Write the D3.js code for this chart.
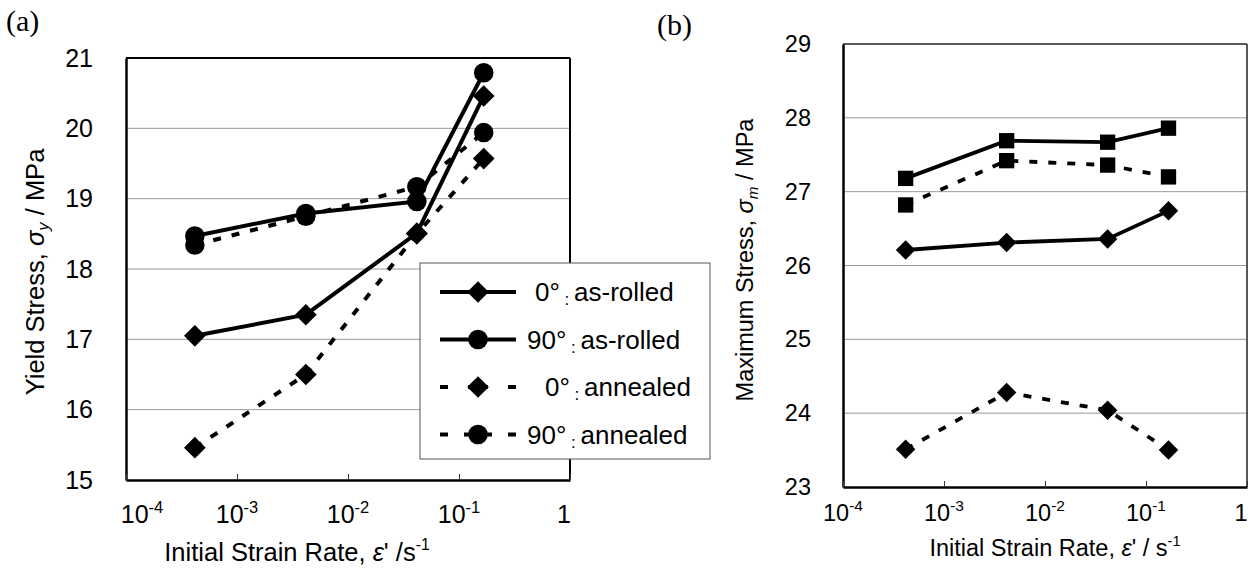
<!DOCTYPE html>
<html><head><meta charset="utf-8">
<script src="https://cdn.jsdelivr.net/npm/d3@7"></script>
<style>body{margin:0;background:#fff} text{font-family:"Liberation Sans",Arial,sans-serif;fill:#000}</style>
</head><body><svg id="c" width="1258" height="579" xmlns="http://www.w3.org/2000/svg"></svg>
<script>
// ---------- data ----------
const strainRates = [4.17e-4, 4.17e-3, 4.17e-2, 1.67e-1];
const xTickValues = [1e-4, 1e-3, 1e-2, 1e-1, 1];
const xTickExponents = ["-4", "-3", "-2", "-1", ""];

// (a) yield stress
const yieldTicks = [15, 16, 17, 18, 19, 20, 21];
const yield0Rolled = [17.05, 17.35, 18.51, 20.46];
const yield90Rolled = [18.47, 18.79, 18.96, 20.79];
const yield0Annealed = [15.46, 16.50, 18.50, 19.57];
const yield90Annealed = [18.34, 18.75, 19.17, 19.94];

// (b) maximum stress
const maxTicks = [23, 24, 25, 26, 27, 28, 29];
const max0Rolled = [26.21, 26.31, 26.36, 26.74];
const max90Rolled = [27.18, 27.69, 27.67, 27.86];
const max0Annealed = [23.51, 24.28, 24.04, 23.50];
const max90Annealed = [26.82, 27.42, 27.36, 27.20];

const legendAngles = ["0°", "90°", "0°", "90°"];
const legendStates = ["as-rolled", "as-rolled", "annealed", "annealed"];

// ---------- drawing ----------
const svg = d3.select("#c");

function panel(cfg) {
  const g = svg.append("g");
  const x = d3.scaleLog().domain([1e-4, 1]).range([cfg.l, cfg.r]);
  const y = d3.scaleLinear().domain([cfg.ticks[0], cfg.ticks[cfg.ticks.length - 1]]).range([cfg.b, cfg.t]);

  // gridlines
  g.append("g").selectAll("line").data(cfg.ticks.slice(1, -1)).join("line")
    .attr("x1", cfg.l).attr("x2", cfg.r).attr("y1", d => y(d)).attr("y2", d => y(d))
    .attr("stroke", "#999").attr("stroke-width", 1);

  // frame: top & right
  g.append("line").attr("x1", cfg.l).attr("x2", cfg.r).attr("y1", cfg.t).attr("y2", cfg.t)
    .attr("stroke", cfg.frameColor).attr("stroke-width", cfg.frameW);
  g.append("line").attr("x1", cfg.r).attr("x2", cfg.r).attr("y1", cfg.t).attr("y2", cfg.b)
    .attr("stroke", cfg.frameColor).attr("stroke-width", cfg.frameW);

  // y axis (labels only, gridlines replace ticks)
  const ya = d3.axisLeft(y).tickValues(cfg.ticks).tickSize(0).tickPadding(cfg.yPad).tickFormat(d3.format("d"));
  const yg = g.append("g").attr("transform", `translate(${cfg.l},0)`).call(ya);
  yg.select(".domain").attr("stroke", "#000").attr("stroke-width", 2.5);
  yg.selectAll("text").attr("font-size", cfg.tickFont).attr("font-family", "Liberation Sans, Arial, sans-serif");

  // x axis, inner ticks
  const xa = d3.axisBottom(x).tickValues(xTickValues).tickSizeInner(-6).tickSizeOuter(0).tickFormat(() => "");
  const xg = g.append("g").attr("transform", `translate(0,${cfg.b})`).call(xa);
  xg.select(".domain").attr("stroke", "#000").attr("stroke-width", 2.5);
  xg.selectAll(".tick line").attr("stroke", "#333").attr("stroke-width", 1);
  // tick labels with superscript exponents
  const lbl = g.append("g").selectAll("text").data(xTickValues).join("text")
    .attr("x", (d, i) => x(d) + (i === 0 ? cfg.firstShift : 0) + (i === 4 ? -6 : 0))
    .attr("y", cfg.b + cfg.xLabDy)
    .attr("text-anchor", "middle").attr("font-size", cfg.tickFont);
  lbl.each(function (d, i) {
    const t = d3.select(this);
    if (xTickExponents[i] === "") { t.text("1"); return; }
    t.append("tspan").text("10");
    t.append("tspan").attr("font-size", cfg.tickFont * 0.66).attr("dy", -cfg.tickFont * 0.42).text(xTickExponents[i]);
  });

  // series
  const line = d3.line().x((d, i) => x(strainRates[i])).y(d => y(d));
  const diamond = d3.symbol().type(d3.symbolSquare).size(cfg.diamondSize);
  const other = d3.symbol().type(cfg.sym90).size(cfg.sym90Size);
  const series = [
    {v: cfg.s0a, dash: "8,11", mark: "d"},
    {v: cfg.s90a, dash: "8,11", mark: "o"},
    {v: cfg.s0r, dash: null, mark: "d"},
    {v: cfg.s90r, dash: null, mark: "o"}
  ];
  series.forEach(s => {
    g.append("path").attr("d", line(s.v)).attr("fill", "none").attr("stroke", "#000")
      .attr("stroke-width", cfg.lineW).attr("stroke-dasharray", s.dash);
    g.append("g").selectAll("path").data(s.v).join("path")
      .attr("d", s.mark === "d" ? diamond : other)
      .attr("transform", (d, i) => `translate(${x(strainRates[i])},${y(d)})` + (s.mark === "d" ? " rotate(45)" : ""))
      .attr("fill", "#000");
  });

  // axis titles
  const yt = g.append("text").attr("transform", `translate(${cfg.ytX},${cfg.ytY}) rotate(-90)`)
    .attr("text-anchor", "middle").attr("font-size", cfg.titleFont);
  yt.append("tspan").text(cfg.yName + ", ");
  yt.append("tspan").attr("font-style", "italic").text("σ");
  yt.append("tspan").attr("font-style", "italic").attr("font-size", cfg.titleFont * 0.65).attr("dy", 5).text(cfg.ySub);
  yt.append("tspan").attr("dy", -5).text(" / MPa");

  const xt = g.append("text").attr("x", cfg.xtX).attr("y", cfg.xtY)
    .attr("text-anchor", "middle").attr("font-size", cfg.titleFont);
  xt.append("tspan").text("Initial Strain Rate, ");
  xt.append("tspan").attr("font-style", "italic").text("ε");
  xt.append("tspan").text(cfg.xUnitGap);
  xt.append("tspan").attr("font-size", cfg.titleFont * 0.62).attr("dy", -cfg.titleFont * 0.42).text("-1");

  // panel letter
  svg.append("text").attr("x", cfg.letterX).attr("y", cfg.letterY).attr("font-size", 30)
    .style("font-family", "Liberation Serif, Times New Roman, serif").text(cfg.letter);

  return {x, y, cfg, diamond, other};
}

const pa = panel({
  l: 126, r: 570, t: 58, b: 480, ticks: yieldTicks,
  s0r: yield0Rolled, s90r: yield90Rolled, s0a: yield0Annealed, s90a: yield90Annealed,
  sym90: d3.symbolCircle, sym90Size: 300, diamondSize: 235, lineW: 4,
  frameColor: "#000", frameW: 2, tickFont: 25, yPad: 33, xLabDy: 43, firstShift: 16,
  titleFont: 25.5, yName: "Yield Stress", ySub: "y", ytX: 44, ytY: 272,
  xtX: 297, xtY: 561, xUnitGap: "' /s", letter: "(a)", letterX: 6, letterY: 31
});

const pb = panel({
  l: 843, r: 1247, t: 44, b: 487, ticks: maxTicks,
  s0r: max0Rolled, s90r: max90Rolled, s0a: max0Annealed, s90a: max90Annealed,
  sym90: d3.symbolSquare, sym90Size: 235, diamondSize: 190, lineW: 3.8,
  frameColor: "#222", frameW: 1.5, tickFont: 23.5, yPad: 32, xLabDy: 34, firstShift: 0,
  titleFont: 23.5, yName: "Maximum Stress", ySub: "m", ytX: 753, ytY: 260,
  xtX: 1055, xtY: 556, xUnitGap: "' / s", letter: "(b)", letterX: 657, letterY: 35
});

// ---------- legend (panel a) ----------
const leg = svg.append("g");
leg.append("rect").attr("x", 420).attr("y", 263).attr("width", 290).attr("height", 196)
  .attr("fill", "#fff").attr("stroke", "#555").attr("stroke-width", 1);
const legDash = [null, null, "8,20,20,20,8", "8,16,28,16,8"];
const legMark = ["d", "o", "d", "o"];
const legTextX = [535, 527, 545, 527];
legendStates.forEach((s, i) => {
  const yy = 292 + i * 47.5;
  leg.append("line").attr("x1", 440).attr("x2", 516).attr("y1", yy).attr("y2", yy)
    .attr("stroke", "#000").attr("stroke-width", 4).attr("stroke-dasharray", legDash[i]);
  leg.append("path").attr("d", legMark[i] === "d" ? pa.diamond : pa.other)
    .attr("transform", `translate(478,${yy})` + (legMark[i] === "d" ? " rotate(45)" : "")).attr("fill", "#000");
  const t = leg.append("text").attr("x", legTextX[i]).attr("y", yy + 9).attr("font-size", 26);
  t.append("tspan").text(legendAngles[i]);
  t.append("tspan").attr("font-size", 17).attr("dy", 4).text(" : ");
  t.append("tspan").attr("dy", -4).text(s);
});
</script></body></html>
